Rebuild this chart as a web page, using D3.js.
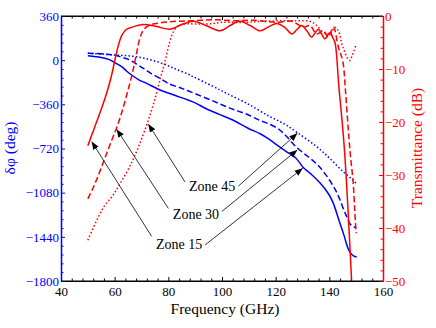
<!DOCTYPE html>
<html><head><meta charset="utf-8">
<script src="https://cdn.jsdelivr.net/npm/d3@7"></script>
<style>body{margin:0;background:#fff}svg{display:block}text{font-family:"Liberation Serif","Times New Roman",serif}</style>
</head><body><svg id="c" width="436" height="328"></svg>
<script>
// ---- data ----
const freqTicks=[40,60,80,100,120,140,160];
const phaseTicks=[360,0,-360,-720,-1080,-1440,-1800];
const transTicks=[0,-10,-20,-30,-40,-50];

// phase (deg) vs frequency (GHz)
const phase15=[[50,36],[55,22],[58,4],[60,-20],[62.6,-53],[64.5,-90],[66.3,-121],[69,-160],[71.9,-189],[76.9,-243],[80,-268],[83.1,-292],[87.3,-325],[90,-348],[94.5,-400],[99,-442],[104,-488],[109.7,-555],[114.2,-600],[117.2,-640],[120.4,-690],[124,-745],[127.6,-800],[130.1,-870],[133,-925],[136.5,-1000],[139.9,-1097],[141.5,-1167],[143.7,-1313],[145.5,-1430],[146.9,-1530],[148,-1575],[149,-1595],[150.2,-1605]];
const phase30=[[50,56],[55,52],[59.5,42],[62.5,25],[65.7,1],[68,-30],[70.7,-66],[73.5,-108],[76.9,-148],[80,-190],[84.4,-225],[87.3,-249],[93,-300],[98,-345],[102.2,-384],[106,-415],[109.7,-445],[114,-490],[117,-515],[121,-560],[124,-620],[128,-715],[132,-785],[135,-840],[137.5,-900],[140,-975],[142.3,-1060],[144,-1140],[145.6,-1232],[146.5,-1276],[147.7,-1335],[148.7,-1352],[150,-1370]];
const phase45=[[50,56],[55,50],[60.1,42],[64,37],[68.2,28],[72,10],[75.7,-12],[79.9,-45],[83,-75],[87.3,-113],[89.3,-135],[94.8,-194],[99.3,-243],[102.2,-276],[109.7,-357],[117.2,-453],[120.9,-493],[124,-530],[128,-590],[135,-700],[140,-797],[145,-906],[148.7,-974],[150.4,-1015]];

// transmittance (dB) vs frequency (GHz)
const trans15=[[50,-24.5],[52.3,-21.3],[54.5,-18.3],[56.8,-14.9],[58.6,-11.7],[60.1,-8.3],[61.4,-5.5],[62.7,-3.6],[64.2,-2.6],[66.5,-2.1],[70.6,-1.6],[75.8,-2.0],[80.6,-2.5],[85,-1.6],[89.3,-1.0],[94,-1.8],[99.3,-2.8],[103,-1.8],[106.7,-1.0],[110.5,-1.8],[114.2,-2.8],[117.5,-2.0],[120.4,-1.4],[123.5,-2.2],[126,-3.4],[128,-2.5],[129.7,-1.8],[131.6,-2.8],[133.4,-4.0],[134.7,-3.2],[135.9,-2.5],[137,-3.3],[138.4,-4.3],[139.3,-3.7],[140.3,-3.1],[141.2,-4.0],[142.1,-5.0],[143.5,-13],[145.6,-25],[148.3,-50]];
const trans30=[[50,-34.5],[51.9,-32.5],[53.8,-30.2],[55.7,-27.7],[57.5,-25.3],[59.4,-22.8],[60.9,-20.9],[62.7,-18.1],[64.6,-14.7],[66.5,-11.0],[68.1,-7.2],[69.4,-4.2],[70.9,-2.5],[73.2,-1.7],[76.9,-1.3],[83,-1.0],[89,-0.9],[97,-0.7],[105,-0.9],[112,-0.8],[120,-1.2],[126,-1.0],[130.3,-2.1],[132.8,-1.8],[135.3,-3.4],[137.8,-2.8],[139.6,-4.0],[141.5,-2.1],[143.4,-5.9],[145,-8.5],[146,-14],[147,-21],[147.8,-26],[148.9,-31.5],[149.5,-37],[150,-41]];
const trans45=[[50,-42.3],[53,-38.9],[56,-36.0],[59.4,-33.8],[62.4,-31.3],[65.7,-28.3],[68.7,-24.9],[71.7,-20.9],[74.7,-16.2],[77.3,-11.3],[79.1,-7.9],[80.6,-4.7],[82.1,-2.8],[83.6,-1.9],[86.2,-1.5],[90,-1.5],[95,-1.5],[100,-1.2],[108,-1.2],[115,-1.0],[122,-0.9],[128,-0.9],[132.8,-1.0],[135.3,-1.8],[137.8,-3.1],[140.3,-3.4],[142.1,-2.1],[143.5,-3.0],[145,-5.8],[147.5,-8.4],[148.5,-7.5],[150,-5.3]];

// annotations: label, label centre (GHz, dB), left tail, red tip (GHz,dB), right tail, blue tip (GHz,deg)
const zoneNames=["Zone 45","Zone 30","Zone 15"];
const zoneLabelPos=[[96.3,-32.1],[90.3,-37.4],[84.0,-43.0]];
const zoneLeftTail=[[86.2,-31.3],[80.0,-36.3],[73.8,-41.6]];
const zoneRedTip=[[72.54,-20.4],[60.76,-21.4],[51.44,-23.7]];
const zoneRightTail=[[106.1,-32.1],[99.9,-36.9],[93.7,-43.2]];
const zoneBlueTip=[[128.07,-596],[128.07,-732],[130.08,-881]];

// ---- chart ----
const SERIF='"Liberation Serif","Times New Roman",serif';
const svg=d3.select("#c");
const L=61,R=383,T=16,B=281;
const x=d3.scaleLinear().domain([40,160]).range([L,R]);
const yL=d3.scaleLinear().domain([-1800,360]).range([B,T]);
const yR=d3.scaleLinear().domain([-50,0]).range([B,T]);

svg.append("defs").append("clipPath").attr("id","clip")
  .append("rect").attr("x",L).attr("y",T).attr("width",R-L).attr("height",B-T);
svg.select("defs").append("marker").attr("id","ah").attr("viewBox","0 0 10 10")
  .attr("refX",10).attr("refY",5).attr("markerWidth",8).attr("markerHeight",8)
  .attr("markerUnits","userSpaceOnUse").attr("orient","auto")
  .append("path").attr("d","M0,1 L10,5 L0,9 Z").attr("fill","#000");

const minorF=d3.range(40,160.1,4).filter(v=>v%20!==0);
const minorP=d3.range(-1800,360.1,72).filter(v=>v%360!==0);
const minorT=d3.range(-50,0.1,2).filter(v=>v%10!==0);
const fmt=d=>String(d).replace("-","\u2212");

function styleAxis(g,color,size){
  g.attr("font-family",SERIF).attr("font-size",size);
  g.select(".domain").attr("stroke",color);
  g.selectAll(".tick line").attr("stroke",color);
  g.selectAll(".tick text").attr("fill",color).attr("font-family",SERIF).style("font-family",SERIF).style("font-size",size+"px");
}
// bottom
let g=svg.append("g").attr("transform",`translate(0,${B})`)
  .call(d3.axisBottom(x).tickValues(freqTicks).tickSizeInner(-4).tickSizeOuter(0).tickPadding(6));
styleAxis(g,"#000",13);
g=svg.append("g").attr("transform",`translate(0,${B})`)
  .call(d3.axisBottom(x).tickValues(minorF).tickSizeInner(-2.5).tickSizeOuter(0).tickFormat(""));
styleAxis(g,"#000",13);
// top
g=svg.append("g").attr("transform",`translate(0,${T})`)
  .call(d3.axisTop(x).tickValues(freqTicks).tickSizeInner(-4).tickSizeOuter(0).tickFormat(""));
styleAxis(g,"#000",13);
g=svg.append("g").attr("transform",`translate(0,${T})`)
  .call(d3.axisTop(x).tickValues(minorF).tickSizeInner(-2.5).tickSizeOuter(0).tickFormat(""));
styleAxis(g,"#000",13);
// left
g=svg.append("g").attr("transform",`translate(${L},0)`)
  .call(d3.axisLeft(yL).tickValues(phaseTicks).tickSizeInner(-4).tickSizeOuter(0).tickPadding(2).tickFormat(fmt));
styleAxis(g,"#0000ff",13);
g.select(".domain").attr("stroke-width",1.5);
g=svg.append("g").attr("transform",`translate(${L},0)`)
  .call(d3.axisLeft(yL).tickValues(minorP).tickSizeInner(-2.5).tickSizeOuter(0).tickFormat(""));
styleAxis(g,"#0000ff",13);
// right
g=svg.append("g").attr("transform",`translate(${R},0)`)
  .call(d3.axisRight(yR).tickValues(transTicks).tickSizeInner(-4).tickSizeOuter(0).tickPadding(2).tickFormat(fmt));
styleAxis(g,"#ff0000",13);
g.select(".domain").attr("stroke-width",1.5);
g=svg.append("g").attr("transform",`translate(${R},0)`)
  .call(d3.axisRight(yR).tickValues(minorT).tickSizeInner(-2.5).tickSizeOuter(0).tickFormat(""));
styleAxis(g,"#ff0000",13);

// curves
const plot=svg.append("g").attr("clip-path","url(#clip)");
const lineL=d3.line().x(d=>x(d[0])).y(d=>yL(d[1])).curve(d3.curveCatmullRom.alpha(0.5));
const lineR=d3.line().x(d=>x(d[0])).y(d=>yR(d[1])).curve(d3.curveCatmullRom.alpha(0.5));
const dashes={solid:null,dash:"6,3",dot:"1.5,2.2"};
[[phase15,"solid"],[phase30,"dash"],[phase45,"dot"]].forEach(([d,s])=>{
  plot.append("path").datum(d).attr("d",lineL).attr("fill","none").attr("stroke","#0000ff")
    .attr("stroke-width",1.5).attr("stroke-dasharray",dashes[s]);
});
[[trans15,"solid"],[trans30,"dash"],[trans45,"dot"]].forEach(([d,s])=>{
  plot.append("path").datum(d).attr("d",lineR).attr("fill","none").attr("stroke","#ff0000")
    .attr("stroke-width",1.5).attr("stroke-dasharray",dashes[s]);
});

// frame lines top/bottom
svg.append("line").attr("x1",L).attr("x2",R).attr("y1",T).attr("y2",T).attr("stroke","#000");
svg.append("line").attr("x1",L).attr("x2",R).attr("y1",B).attr("y2",B).attr("stroke","#000");

// annotations
zoneNames.forEach((name,i)=>{
  svg.append("text").attr("x",x(zoneLabelPos[i][0])).attr("y",yR(zoneLabelPos[i][1]))
    .attr("text-anchor","middle").attr("dy","0.35em").style("font-size","14px").text(name);
  svg.append("line").attr("x1",x(zoneLeftTail[i][0])).attr("y1",yR(zoneLeftTail[i][1]))
    .attr("x2",x(zoneRedTip[i][0])).attr("y2",yR(zoneRedTip[i][1]))
    .attr("stroke","#000").attr("stroke-width",0.8).attr("marker-end","url(#ah)");
  svg.append("line").attr("x1",x(zoneRightTail[i][0])).attr("y1",yR(zoneRightTail[i][1]))
    .attr("x2",x(zoneBlueTip[i][0])).attr("y2",yL(zoneBlueTip[i][1]))
    .attr("stroke","#000").attr("stroke-width",0.8).attr("marker-end","url(#ah)");
});

// axis titles
svg.append("text").attr("x",(L+R)/2+3).attr("y",314).attr("text-anchor","middle")
  .style("font-size","15.5px").text("Frequency (GHz)");
svg.append("text").attr("transform","translate(14.5,148) rotate(-90)").attr("text-anchor","middle")
  .attr("fill","#0000ff").style("font-size","15.5px").text("\u03b4\u03c6 (deg)");
svg.append("text").attr("transform","translate(422,148) rotate(-90)").attr("text-anchor","middle")
  .attr("fill","#ff0000").style("font-size","15.5px").text("Transmittance (dB)");
</script></body></html>
